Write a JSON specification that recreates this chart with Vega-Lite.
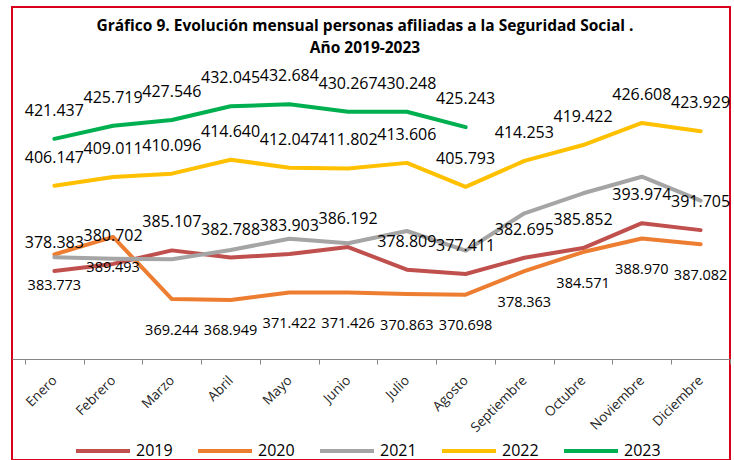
{
  "$schema": "https://vega.github.io/schema/vega-lite/v6.json",
  "width": 718,
  "height": 453,
  "autosize": "none",
  "padding": {"left": 12, "top": 7, "right": 4, "bottom": 0},
  "background": "white",
  "config": {"view": {"stroke": "#D9001B", "strokeWidth": 2}, "font": "Open Sans"},
  "title": {
    "text": ["Gráfico 9. Evolución mensual personas afiliadas a la Seguridad Social .", "Año 2019-2023"],
    "font": "Open Sans", "fontSize": 15.5, "fontWeight": "bold", "color": "#000000",
    "lineHeight": 22, "anchor": "middle", "offset": -49, "dx": -6
  },
  "data": {"values": [
    {"mes":"Enero","anio":"2019","valor":378.383},{"mes":"Febrero","anio":"2019","valor":380.702},{"mes":"Marzo","anio":"2019","valor":385.107},{"mes":"Abril","anio":"2019","valor":382.788},{"mes":"Mayo","anio":"2019","valor":383.903},{"mes":"Junio","anio":"2019","valor":386.192},{"mes":"Julio","anio":"2019","valor":378.809},{"mes":"Agosto","anio":"2019","valor":377.411},{"mes":"Septiembre","anio":"2019","valor":382.695},{"mes":"Octubre","anio":"2019","valor":385.852},{"mes":"Noviembre","anio":"2019","valor":393.974},{"mes":"Diciembre","anio":"2019","valor":391.705},
    {"mes":"Enero","anio":"2020","valor":383.773},{"mes":"Febrero","anio":"2020","valor":389.493},{"mes":"Marzo","anio":"2020","valor":369.244},{"mes":"Abril","anio":"2020","valor":368.949},{"mes":"Mayo","anio":"2020","valor":371.422},{"mes":"Junio","anio":"2020","valor":371.426},{"mes":"Julio","anio":"2020","valor":370.863},{"mes":"Agosto","anio":"2020","valor":370.698},{"mes":"Septiembre","anio":"2020","valor":378.363},{"mes":"Octubre","anio":"2020","valor":384.571},{"mes":"Noviembre","anio":"2020","valor":388.970},{"mes":"Diciembre","anio":"2020","valor":387.082},
    {"mes":"Enero","anio":"2021","valor":382.85},{"mes":"Febrero","anio":"2021","valor":382.40},{"mes":"Marzo","anio":"2021","valor":382.20},{"mes":"Abril","anio":"2021","valor":385.23},{"mes":"Mayo","anio":"2021","valor":388.91},{"mes":"Junio","anio":"2021","valor":387.41},{"mes":"Julio","anio":"2021","valor":391.42},{"mes":"Agosto","anio":"2021","valor":385.00},{"mes":"Septiembre","anio":"2021","valor":397.18},{"mes":"Octubre","anio":"2021","valor":403.70},{"mes":"Noviembre","anio":"2021","valor":409.10},{"mes":"Diciembre","anio":"2021","valor":401.29},
    {"mes":"Enero","anio":"2022","valor":406.147},{"mes":"Febrero","anio":"2022","valor":409.011},{"mes":"Marzo","anio":"2022","valor":410.096},{"mes":"Abril","anio":"2022","valor":414.640},{"mes":"Mayo","anio":"2022","valor":412.047},{"mes":"Junio","anio":"2022","valor":411.802},{"mes":"Julio","anio":"2022","valor":413.606},{"mes":"Agosto","anio":"2022","valor":405.793},{"mes":"Septiembre","anio":"2022","valor":414.253},{"mes":"Octubre","anio":"2022","valor":419.422},{"mes":"Noviembre","anio":"2022","valor":426.608},{"mes":"Diciembre","anio":"2022","valor":423.929},
    {"mes":"Enero","anio":"2023","valor":421.437},{"mes":"Febrero","anio":"2023","valor":425.719},{"mes":"Marzo","anio":"2023","valor":427.546},{"mes":"Abril","anio":"2023","valor":432.045},{"mes":"Mayo","anio":"2023","valor":432.684},{"mes":"Junio","anio":"2023","valor":430.267},{"mes":"Julio","anio":"2023","valor":430.248},{"mes":"Agosto","anio":"2023","valor":425.243}
  ]},
  "encoding": {
    "x": {
      "field": "mes", "type": "nominal",
      "sort": ["Enero","Febrero","Marzo","Abril","Mayo","Junio","Julio","Agosto","Septiembre","Octubre","Noviembre","Diciembre"],
      "scale": {"type": "band", "paddingInner": 0, "paddingOuter": 0.1106, "align": 1},
      "bandPosition": 0.5,
      "axis": {
        "title": null, "offset": -101, "tickBand": "extent",
        "domainColor": "#868686", "domainWidth": 1, "tickColor": "#868686", "tickSize": 5,
        "labelAngle": -45, "labelAlign": "right", "labelBaseline": "middle", "labelPadding": 14,
        "labelFont": "Open Sans", "labelFontSize": 13.5, "labelColor": "#262626", "grid": false
      }
    },
    "y": {
      "field": "valor", "type": "quantitative",
      "scale": {"domain": [316.84, 464.37], "nice": false, "zero": false},
      "axis": null
    }
  },
  "layer": [
    {
      "mark": {"type": "line", "strokeWidth": 4, "strokeCap": "round", "strokeJoin": "round"},
      "encoding": {
        "color": {
          "field": "anio", "type": "nominal",
          "scale": {"domain": ["2019","2020","2021","2022","2023"], "range": ["#C0504D","#ED7D31","#A5A5A5","#FFC000","#00B050"]},
          "legend": {
            "orient": "none", "legendX": 62, "legendY": 415, "direction": "horizontal", "title": null,
            "symbolType": "stroke", "symbolSize": 2916, "symbolStrokeWidth": 4,
            "labelFont": "Open Sans", "labelFontSize": 16, "labelColor": "#000000", "labelOffset": 4, "columnPadding": 17
          }
        }
      }
    },
    {
      "transform": [{"filter": "datum.anio != '2021' && datum.anio != '2020'"}],
      "mark": {"type": "text", "dy": -23, "baseline": "alphabetic", "align": "center", "fontSize": 16, "font": "Open Sans", "color": "#000000"},
      "encoding": {"text": {"field": "valor", "type": "quantitative", "format": ".3f"}}
    },
    {
      "transform": [{"filter": "datum.anio == '2020'"}],
      "mark": {"type": "text", "dy": 35.5, "baseline": "alphabetic", "align": "center", "fontSize": 14.5, "font": "Open Sans", "color": "#000000"},
      "encoding": {"text": {"field": "valor", "type": "quantitative", "format": ".3f"}}
    }
  ]
}
